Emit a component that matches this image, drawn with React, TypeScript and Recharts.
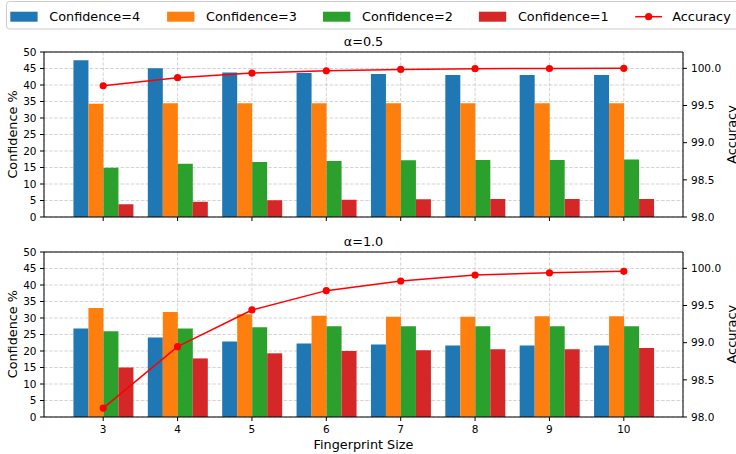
import React from 'react';
import { ComposedChart, Bar, Line, XAxis, YAxis, CartesianGrid, ReferenceLine } from 'recharts';

const sizes = ['3', '4', '5', '6', '7', '8', '9', '10'];

// alpha = 0.5
const conf4A = [47.5, 45.1, 43.8, 43.6, 43.3, 43.0, 43.0, 43.0];
const conf3A = [34.3, 34.5, 34.5, 34.5, 34.5, 34.5, 34.5, 34.5];
const conf2A = [14.9, 16.1, 16.7, 17.0, 17.2, 17.3, 17.3, 17.4];
const conf1A = [3.9, 4.6, 5.1, 5.2, 5.4, 5.45, 5.45, 5.45];
const accA = [99.766, 99.874, 99.937, 99.968, 99.986, 99.995, 99.998, 100.0];

// alpha = 1.0
const conf4B = [26.8, 24.1, 22.9, 22.3, 22.0, 21.7, 21.7, 21.7];
const conf3B = [33.0, 31.8, 31.1, 30.7, 30.4, 30.4, 30.5, 30.5];
const conf2B = [26.0, 26.8, 27.2, 27.5, 27.5, 27.5, 27.5, 27.5];
const conf1B = [15.0, 17.75, 19.3, 20.0, 20.2, 20.5, 20.5, 20.9];
const accB = [98.12, 98.946, 99.44, 99.7, 99.83, 99.91, 99.94, 99.96];

const leftTicks = [0, 5, 10, 15, 20, 25, 30, 35, 40, 45, 50];
const rightTicks = [98, 98.5, 99, 99.5, 100];

const seriesNames = ['Confidence=4', 'Confidence=3', 'Confidence=2', 'Confidence=1'];
const colors = ['#1f77b4', '#ff7f0e', '#2ca02c', '#d62728'];
const titles = ['α=0.5', 'α=1.0'];

const FONT = 'DejaVu Sans';

const build = (c4: number[], c3: number[], c2: number[], c1: number[], acc: number[]) =>
  sizes.map((s, i) => ({ size: s, c4: c4[i], c3: c3[i], c2: c2[i], c1: c1[i], acc: acc[i] }));

const dataA = build(conf4A, conf3A, conf2A, conf1A, accA);
const dataB = build(conf4B, conf3B, conf2B, conf1B, accB);

const tickStyle = { fontSize: 10.5, fill: '#000', fontFamily: FONT };

function Panel({ data, height, top, showLabels }: { data: any[]; height: number; top: number; showLabels: boolean }) {
  return (
    <ComposedChart
      width={736}
      height={height}
      data={data}
      margin={{ top, right: 0, bottom: 0, left: 0 }}
      barCategoryGap="10%"
      barGap={0}
    >
      <XAxis
        dataKey="size"
        type="category"
        padding={{ left: 22, right: 22 }}
        height={height - top - 165}
        stroke="#000"
        tickSize={4}
        tickMargin={5}
        tick={tickStyle}
        tickFormatter={showLabels ? undefined : () => ''}
        interval={0}
      />
      <YAxis
        yAxisId="left"
        orientation="left"
        width={44}
        domain={[0, 50]}
        ticks={leftTicks}
        allowDataOverflow
        stroke="#000"
        tickSize={4}
        tickMargin={3.5}
        tick={tickStyle}
        interval={0}
      />
      <YAxis
        yAxisId="right"
        orientation="right"
        width={53}
        domain={[98, 100.22]}
        ticks={rightTicks}
        allowDataOverflow
        stroke="#000"
        tickSize={4}
        tickMargin={4}
        tick={tickStyle}
        tickFormatter={(v: number) => v.toFixed(1)}
        interval={0}
      />
      <Bar yAxisId="left" dataKey="c4" fill={colors[0]} isAnimationActive={false} />
      <Bar yAxisId="left" dataKey="c3" fill={colors[1]} isAnimationActive={false} />
      <Bar yAxisId="left" dataKey="c2" fill={colors[2]} isAnimationActive={false} />
      <Bar yAxisId="left" dataKey="c1" fill={colors[3]} isAnimationActive={false} />
      <CartesianGrid yAxisId="left" stroke="#b0b0b0" strokeOpacity={0.55} strokeDasharray="3.5 1.6" />
      <Line
        yAxisId="right"
        dataKey="acc"
        stroke="#ff0000"
        strokeWidth={1.5}
        dot={{ r: 3.6, fill: '#ff0000', stroke: 'none' }}
        isAnimationActive={false}
      />
      <ReferenceLine yAxisId="left" y={50} stroke="#000" />
    </ComposedChart>
  );
}

export default function App() {
  const legendX = [10.3, 167.1, 323, 478.9];
  return (
    <div style={{ position: 'absolute', left: 0, top: 0, width: 736, height: 454, background: '#fff', fontFamily: FONT }}>
      <div style={{ position: 'absolute', left: 0, top: 0 }}>
        <Panel data={dataA} height={230} top={52} showLabels={false} />
      </div>
      <div style={{ position: 'absolute', left: 0, top: 230 }}>
        <Panel data={dataB} height={224} top={22} showLabels={true} />
      </div>
      <svg width={736} height={454} style={{ position: 'absolute', left: 0, top: 0, pointerEvents: 'none' }}>
        <rect x={6.5} y={1.5} width={740} height={27.5} rx={3} fill="#fff" fillOpacity={0.8} stroke="#cccccc" />
        {seriesNames.map((n, i) => (
          <g key={n}>
            <rect x={legendX[i]} y={11.7} width={27.3} height={10} fill={colors[i]} />
            <text x={legendX[i] + 39} y={21.2} fontSize={12.8} fontFamily={FONT} fill="#000">{n}</text>
          </g>
        ))}
        <line x1={635.2} x2={662} y1={16.7} y2={16.7} stroke="#ff0000" strokeWidth={1.5} />
        <circle cx={648.6} cy={16.7} r={3.6} fill="#ff0000" />
        <text x={672.3} y={21.2} fontSize={12.8} fontFamily={FONT} fill="#000">Accuracy</text>

        <text x={363.5} y={46} textAnchor="middle" fontSize={12.8} fontFamily={FONT} fill="#000">{titles[0]}</text>
        <text x={363.5} y={245.5} textAnchor="middle" fontSize={12.8} fontFamily={FONT} fill="#000">{titles[1]}</text>

        <text transform="translate(17.3,134.5) rotate(-90)" textAnchor="middle" fontSize={12.8} fontFamily={FONT} fill="#000">Confidence %</text>
        <text transform="translate(17.3,334.2) rotate(-90)" textAnchor="middle" fontSize={12.8} fontFamily={FONT} fill="#000">Confidence %</text>
        <text transform="translate(736,134.5) rotate(-90)" textAnchor="middle" fontSize={12.8} fontFamily={FONT} fill="#000">Accuracy</text>
        <text transform="translate(736,334.2) rotate(-90)" textAnchor="middle" fontSize={12.8} fontFamily={FONT} fill="#000">Accuracy</text>

        <text x={363.5} y={449.3} textAnchor="middle" fontSize={12.8} fontFamily={FONT} fill="#000">Fingerprint Size</text>
      </svg>
    </div>
  );
}
